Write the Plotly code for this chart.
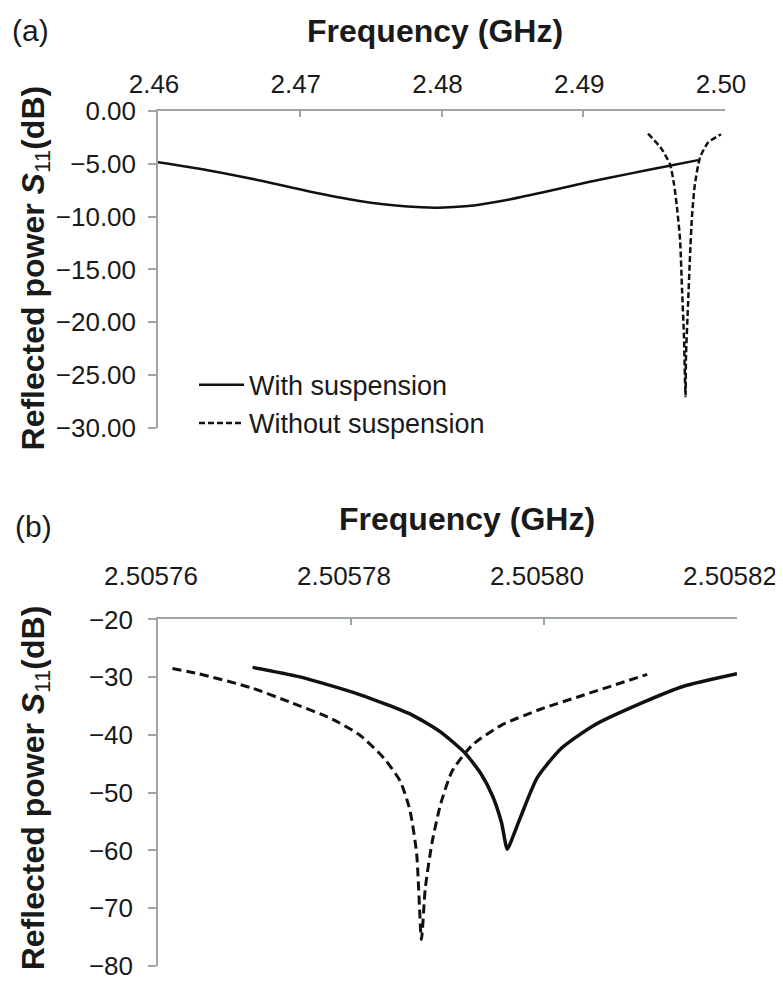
import plotly.graph_objects as go

# ---------------- data ----------------
# (a) broad sweep
top_with_freq = [2.4600, 2.4635, 2.4671, 2.4706, 2.4741, 2.4776, 2.4798, 2.4819,
                 2.4847, 2.4875, 2.4903, 2.4932, 2.4960, 2.4981]
top_with_db = [-4.85, -5.6, -6.55, -7.6, -8.5, -9.05, -9.15, -9.0,
               -8.4, -7.6, -6.75, -5.95, -5.2, -4.65]

top_without_freq = [2.49457, 2.49548, 2.49612, 2.49640, 2.49661, 2.49683, 2.49697,
                    2.49711, 2.49718, 2.49722, 2.49725, 2.49739, 2.49753, 2.49767,
                    2.49788, 2.49824, 2.49880, 2.49972]
top_without_db = [-2.15, -3.5, -5.05, -6.9, -9.1, -12.2, -16.9, -21.5, -25.6, -27.0,
                  -23.1, -18.4, -13.8, -10.0, -6.9, -4.4, -3.0, -2.2]

# (b) narrow sweep
bot_with_freq = [2.5057698, 2.5057746, 2.5057809, 2.5057864, 2.5057893, 2.5057918,
                 2.5057935, 2.5057947, 2.5057956, 2.5057962, 2.5057968, 2.5057976,
                 2.5057993, 2.5058018, 2.5058052, 2.5058102, 2.5058144, 2.5058200]
bot_with_db = [-28.3, -29.9, -33.0, -36.6, -39.5, -43.1, -46.8, -50.7, -55.2, -59.8,
               -57.5, -54.1, -47.4, -42.3, -38.3, -34.4, -31.6, -29.4]

bot_without_freq = [2.5057615, 2.5057642, 2.5057696, 2.5057738, 2.5057780, 2.5057809,
                    2.5057834, 2.5057851, 2.5057861, 2.5057868, 2.5057873, 2.5057877,
                    2.5057884, 2.5057893, 2.5057905, 2.5057926, 2.5057956, 2.5057997,
                    2.5058039, 2.5058107]
bot_without_db = [-28.5, -29.4, -31.8, -34.4, -37.2, -40.0, -44.0, -48.0, -53.0, -60.5,
                  -75.4, -66.5, -58.6, -51.9, -46.2, -41.7, -38.3, -35.5, -33.2, -29.5]

top_xticks = [2.46, 2.47, 2.48, 2.49, 2.50]
top_xtick_labels = ["2.46", "2.47", "2.48", "2.49", "2.50"]
top_yticks = [0, -5, -10, -15, -20, -25, -30]
top_ytick_labels = ["0.00", "\u22125.00", "\u221210.00", "\u221215.00", "\u221220.00",
                    "\u221225.00", "\u221230.00"]
bot_xticks = [2.50576, 2.50578, 2.50580, 2.50582]
bot_xtick_labels = ["2.50576", "2.50578", "2.50580", "2.50582"]
bot_yticks = [-20, -30, -40, -50, -60, -70, -80]
bot_ytick_labels = ["\u221220", "\u221230", "\u221240", "\u221250", "\u221260",
                    "\u221270", "\u221280"]

series_names = ["With suspension", "Without suspension"]

# ---------------- figure ----------------
FONT = "Liberation Sans, Arial, Helvetica, sans-serif"
AXC = "#9ea6a6"
W, H = 783, 985
L, R, T, B = 150, 54, 103, 16
PW, PH = W - L - R, H - T - B


def px(x):
    return (x - L) / PW


def py(y):
    return (H - B - y) / PH


fig = go.Figure()

fig.add_trace(go.Scatter(x=top_with_freq, y=top_with_db, mode="lines",
                         name=series_names[0], xaxis="x", yaxis="y",
                         line=dict(color="#111111", width=2.5, shape="spline", smoothing=0.8)))
fig.add_trace(go.Scatter(x=top_without_freq, y=top_without_db, mode="lines",
                         name=series_names[1], xaxis="x", yaxis="y",
                         line=dict(color="#111111", width=2.5, dash="6px,3px",
                                   shape="spline", smoothing=0.6)))
fig.add_trace(go.Scatter(x=bot_with_freq, y=bot_with_db, mode="lines",
                         name=series_names[0], xaxis="x2", yaxis="y2", showlegend=False,
                         line=dict(color="#111111", width=3.5, shape="spline", smoothing=0.6)))
fig.add_trace(go.Scatter(x=bot_without_freq, y=bot_without_db, mode="lines",
                         name=series_names[1], xaxis="x2", yaxis="y2", showlegend=False,
                         line=dict(color="#111111", width=3, dash="9px,5px",
                                   shape="spline", smoothing=0.6)))

axis_common = dict(showgrid=False, zeroline=False, showline=True, linecolor=AXC,
                   linewidth=1.5, tickcolor=AXC, tickwidth=1.5,
                   tickfont=dict(family=FONT, size=26, color="#1a1a1a"))

fig.update_layout(
    width=W, height=H,
    margin=dict(l=L, r=R, t=T, b=B, pad=0),
    paper_bgcolor="white", plot_bgcolor="white",
    font=dict(family=FONT, color="#1a1a1a"),
    xaxis=dict(domain=[0, px(717)], range=[2.46, 2.50], side="top", anchor="y",
               tickmode="array", tickvals=top_xticks, ticktext=top_xtick_labels,
               ticks="inside", ticklen=6, ticklabelstandoff=6, ticklabelshift=-4,
               **axis_common),
    yaxis=dict(domain=[py(424), 1], range=[-30, 0], anchor="x",
               tickmode="array", tickvals=top_yticks, ticktext=top_ytick_labels,
               ticks="outside", ticklen=8, ticklabelstandoff=7, **axis_common),
    xaxis2=dict(domain=[0, 1], range=[2.50576, 2.50582], side="top", anchor="y2",
                tickmode="array", tickvals=bot_xticks, ticktext=bot_xtick_labels,
                ticks="inside", ticklen=6, ticklabelstandoff=22, ticklabelshift=-7,
                **axis_common),
    yaxis2=dict(domain=[0, py(618)], range=[-80, -20], anchor="x2",
                tickmode="array", tickvals=bot_yticks, ticktext=bot_ytick_labels,
                ticks="outside", ticklen=8, ticklabelstandoff=10, **axis_common),
    legend=dict(x=px(186), y=py(356), xanchor="left", yanchor="top",
                bgcolor="rgba(0,0,0,0)", font=dict(family=FONT, size=27, color="#1a1a1a"),
                itemwidth=45, tracegroupgap=0),
    showlegend=True,
)

title_font = dict(family=FONT, size=32, color="#1a1a1a")
label_font = dict(family=FONT, size=30, color="#1a1a1a")
annos = [
    dict(text="(a)", x=px(22), y=py(21), font=label_font),
    dict(text="<b>Frequency (GHz)</b>", x=px(427), y=py(22), font=title_font),
    dict(text="(b)", x=px(25), y=py(524), font=label_font),
    dict(text="<b>Frequency (GHz)</b>", x=px(459), y=py(516), font=title_font),
    dict(text="<b>Reflected power <i>S</i></b><sub>11</sub><b>(dB)</b>", x=px(27),
         y=py(262.5), textangle=-90, font=title_font),
    dict(text="<b>Reflected power <i>S</i></b><sub>11</sub><b>(dB)</b>", x=px(27),
         y=py(789), textangle=-90, font=title_font),
]
for a in annos:
    fig.add_annotation(xref="paper", yref="paper", xanchor="center", yanchor="middle",
                       showarrow=False, **a)

fig.write_html("out.html")
